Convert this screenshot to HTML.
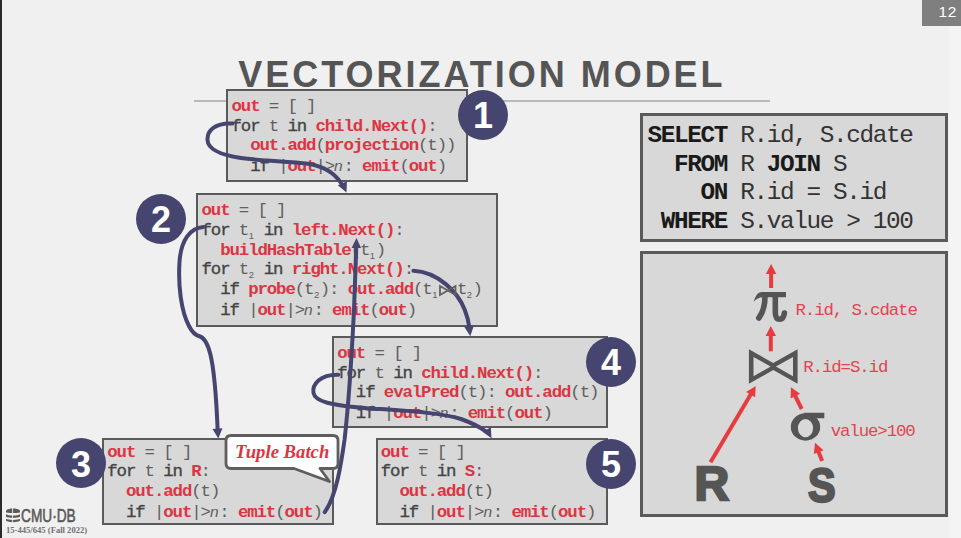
<!DOCTYPE html>
<html><head><meta charset="utf-8"><style>
*{margin:0;padding:0;box-sizing:border-box}
html,body{width:961px;height:538px;overflow:hidden;background:#f0f0f0}
body{position:relative;font-family:"Liberation Sans",sans-serif}
.lb{position:absolute;left:0;top:0;width:2px;height:538px;background:#2a2a2a}
.num{position:absolute;left:922px;top:0;width:39px;height:25.5px;background:#7f7f7f;color:#fff;font-size:15.5px;line-height:23px;text-align:right;padding-right:4px;letter-spacing:0.6px}
.title{position:absolute;left:238.3px;top:53.5px;font-weight:bold;font-size:36px;letter-spacing:2.98px;color:#555;white-space:nowrap}
.ul{position:absolute;left:193.7px;top:100px;width:576px;height:1.9px;background:#b9b9b9}
.box{position:absolute;background:#d8d8d8;border:2.2px solid #5a5a5a}
.ln{position:absolute;font-family:"Liberation Mono",monospace;font-size:17.4px;line-height:17.4px;white-space:pre;color:#606060;letter-spacing:-1.112px}
.r{color:#dc3543;font-weight:bold}
.g{color:#606060}
.k{color:#444444;-webkit-text-stroke:0.35px #444444}
.n{font-family:"Liberation Sans",sans-serif;font-style:italic;font-weight:normal;color:#606060;display:inline-block;width:9.33px;letter-spacing:0;font-size:15.5px}
.sub{display:inline-block;width:6.3px;font-family:"Liberation Sans",sans-serif;letter-spacing:0;font-size:9.5px;position:relative;top:4px;text-align:left;padding-left:0.5px}
.bt{display:inline-block;width:19px;height:10px}
.circ{position:absolute;border-radius:50%;background:#45456f;color:#fff;font-weight:bold;font-size:36px;text-align:center}
.circ span{position:absolute;left:0;right:0;top:8.23px;line-height:36px}
.sq{position:absolute;font-family:"Liberation Mono",monospace;font-size:24.4px;line-height:24.4px;white-space:pre;color:#333;letter-spacing:-1.382px}
.sq b{color:#1a1a1a}
.ov{position:absolute;left:0;top:0}
.big{position:absolute;font-weight:bold;font-size:48px;line-height:50px;color:#555;z-index:3;-webkit-text-stroke:2.4px #555}
.greek{position:absolute;font-family:"Liberation Serif",serif;font-weight:bold;font-size:44px;line-height:50px;color:#555}
.tb{position:absolute;left:235px;top:441.3px;font-family:"Liberation Serif",serif;font-weight:bold;font-style:italic;font-size:18.7px;line-height:22px;color:#dc3543;z-index:5}
.logo{position:absolute;left:21px;top:506px;font-size:18px;line-height:20px;color:#5a5a5a;white-space:nowrap;transform:scaleX(0.76);transform-origin:0 0;-webkit-text-stroke:0.6px #5a5a5a}
.course{position:absolute;left:6px;top:525.2px;font-family:"Liberation Serif",serif;font-size:8.6px;line-height:10px;color:#707070;font-weight:bold;white-space:nowrap}
</style></head>
<body>
<div class="lb"></div>
<div style="position:absolute;left:949px;top:26px;width:12px;height:512px;background:#f4f4f4"></div>
<div class="num">12</div>
<div class="title">VECTORIZATION MODEL</div>
<div class="ul"></div>
<div class="box" style="left:226px;top:88.9px;width:242.10000000000002px;height:92.9px;border-width:2.2px"></div>
<div class="box" style="left:196px;top:192.7px;width:302.1px;height:134.0px;border-width:2.2px"></div>
<div class="box" style="left:102px;top:437.8px;width:232.2px;height:86.90000000000003px;border-width:2.2px"></div>
<div class="box" style="left:332px;top:335.8px;width:275.79999999999995px;height:92.59999999999997px;border-width:2.2px"></div>
<div class="box" style="left:375.9px;top:437.8px;width:232.10000000000002px;height:86.80000000000001px;border-width:2.2px"></div>
<div class="ln" style="left:231.5px;top:98.07px"><b class="r">out</b><span class="g"> = [ ]</span></div>
<div class="ln" style="left:231.5px;top:117.77px"><span class="k">for</span><span class="g"> t </span><span class="k">in</span> <b class="r">child.Next()</b><span class="g">:</span></div>
<div class="ln" style="left:231.5px;top:137.47px">  <b class="r">out.add</b><span class="g">(</span><b class="r">projection</b><span class="g">(t))</span></div>
<div class="ln" style="left:231.5px;top:157.27px">  <span class="k">if</span><span class="g"> |</span><b class="r">out</b><span class="g">|&gt;</span><i class="n">n</i><span class="g">: </span><b class="r">emit</b><span class="g">(</span><b class="r">out</b><span class="g">)</span></div>
<div class="ln" style="left:201.5px;top:201.97px"><b class="r">out</b><span class="g"> = [ ]</span></div>
<div class="ln" style="left:201.5px;top:221.87px"><span class="k">for</span><span class="g"> t<span class="sub">1</span> </span><span class="k">in</span> <b class="r">left.Next()</b><span class="g">:</span></div>
<div class="ln" style="left:201.5px;top:241.57px">  <b class="r">buildHashTable</b><span class="g">(t<span class="sub">1</span>)</span></div>
<div class="ln" style="left:201.5px;top:261.27px"><span class="k">for</span><span class="g"> t<span class="sub">2</span> </span><span class="k">in</span> <b class="r">right.Next()</b><span class="g">:</span></div>
<div class="ln" style="left:201.5px;top:281.07px">  <span class="k">if</span> <b class="r">probe</b><span class="g">(t<span class="sub">2</span>): </span><b class="r">out.add</b><span class="g">(t<span class="sub">1</span><span class="bt"></span>t<span class="sub">2</span>)</span></div>
<div class="ln" style="left:201.5px;top:300.97px">  <span class="k">if</span><span class="g"> |</span><b class="r">out</b><span class="g">|&gt;</span><i class="n">n</i><span class="g">: </span><b class="r">emit</b><span class="g">(</span><b class="r">out</b><span class="g">)</span></div>
<div class="ln" style="left:107.3px;top:443.67px"><b class="r">out</b><span class="g"> = [ ]</span></div>
<div class="ln" style="left:107.3px;top:463.47px"><span class="k">for</span><span class="g"> t </span><span class="k">in</span> <b class="r">R</b><span class="g">:</span></div>
<div class="ln" style="left:107.3px;top:483.27px">  <b class="r">out.add</b><span class="g">(t)</span></div>
<div class="ln" style="left:107.3px;top:503.17px">  <span class="k">if</span><span class="g"> |</span><b class="r">out</b><span class="g">|&gt;</span><i class="n">n</i><span class="g">: </span><b class="r">emit</b><span class="g">(</span><b class="r">out</b><span class="g">)</span></div>
<div class="ln" style="left:337.2px;top:344.87px"><b class="r">out</b><span class="g"> = [ ]</span></div>
<div class="ln" style="left:337.2px;top:364.57px"><span class="k">for</span><span class="g"> t </span><span class="k">in</span> <b class="r">child.Next()</b><span class="g">:</span></div>
<div class="ln" style="left:337.2px;top:384.37px">  <span class="k">if</span> <b class="r">evalPred</b><span class="g">(t): </span><b class="r">out.add</b><span class="g">(t)</span></div>
<div class="ln" style="left:337.2px;top:404.27px">  <span class="k">if</span><span class="g"> |</span><b class="r">out</b><span class="g">|&gt;</span><i class="n">n</i><span class="g">: </span><b class="r">emit</b><span class="g">(</span><b class="r">out</b><span class="g">)</span></div>
<div class="ln" style="left:380.8px;top:443.67px"><b class="r">out</b><span class="g"> = [ ]</span></div>
<div class="ln" style="left:380.8px;top:463.47px"><span class="k">for</span><span class="g"> t </span><span class="k">in</span> <b class="r">S</b><span class="g">:</span></div>
<div class="ln" style="left:380.8px;top:483.27px">  <b class="r">out.add</b><span class="g">(t)</span></div>
<div class="ln" style="left:380.8px;top:503.17px">  <span class="k">if</span><span class="g"> |</span><b class="r">out</b><span class="g">|&gt;</span><i class="n">n</i><span class="g">: </span><b class="r">emit</b><span class="g">(</span><b class="r">out</b><span class="g">)</span></div>
<div class="circ" style="left:458.1px;top:89.8px;width:50px;height:50px"><span>1</span></div>
<div class="circ" style="left:135.9px;top:194.1px;width:50px;height:50px"><span>2</span></div>
<div class="circ" style="left:56.099999999999994px;top:438.4px;width:50px;height:50px"><span>3</span></div>
<div class="circ" style="left:586.1px;top:336.9px;width:50px;height:50px"><span>4</span></div>
<div class="circ" style="left:586.1px;top:438.9px;width:50px;height:50px"><span>5</span></div>
<div class="box" style="left:640.3px;top:113.4px;width:307.30000000000007px;height:128.6px;border-width:3.2px"></div>
<div class="box" style="left:640px;top:250.6px;width:307.79999999999995px;height:266.1px;border-width:3.2px"></div>
<div class="sq" style="left:647.5px;top:123.61px"><b>SELECT</b> R.id, S.cdate</div>
<div class="sq" style="left:647.5px;top:153.21px"><b>  FROM</b> R <b>JOIN</b> S</div>
<div class="sq" style="left:647.5px;top:181.31px"><b>    ON</b> R.id = S.id</div>
<div class="sq" style="left:647.5px;top:210.31px"><b> WHERE</b> S.value &gt; 100</div>
<div class="ln" style="left:795.5px;top:301.67px;color:#e04650">R.id, S.cdate</div>
<div class="ln" style="left:803.3px;top:359.27px;color:#e04650">R.id=S.id</div>
<div class="ln" style="left:830.7px;top:422.87px;color:#e04650">value&gt;100</div>
<div class="tb">Tuple Batch</div>
<div class="big" style="left:694.5px;top:459.3px">R</div>
<div class="big" style="left:807.5px;top:461.3px;transform:scaleX(0.86);transform-origin:0 0">S</div>

<svg class="ov" width="961" height="538" viewBox="0 0 961 538">
<defs>
<marker id="ah" markerWidth="10" markerHeight="10" refX="5" refY="5" orient="auto" markerUnits="userSpaceOnUse"></marker>
</defs>
<path d="M232.5,123.5 C216,122.5 207,130 207.5,140 C208,150 221,155 241,158 C263,161 290,161.3 308,163.8 C322,166 334,172.5 341,183" fill="none" stroke="#45456f" stroke-width="4.0" stroke-linecap="round"/><polygon points="346.50,192.40 337.81,185.37 346.91,181.23" fill="#45456f"/><path d="M203.5,227 C190,228 181,240 179.5,262 C178,285 181,311 189,326 C192,332 195.5,335.2 199.5,336.3 C204,337.6 207.5,343 210.3,354 C213.8,368 216.2,395 217.6,429" fill="none" stroke="#45456f" stroke-width="4.0" stroke-linecap="round"/><polygon points="218.30,438.50 212.52,428.93 222.49,428.13" fill="#45456f"/><path d="M324.7,512.1 C336,497 341,465 344.5,440 C348,410 352,350 354,310 L356.3,246" fill="none" stroke="#45456f" stroke-width="4.0" stroke-linecap="round"/><polygon points="356.50,238.00 361.05,248.09 351.55,247.90" fill="#45456f"/><path d="M413.4,270.8 C438,272 458,292 464.8,310 C467.2,316 468.6,321 469.5,328" fill="none" stroke="#45456f" stroke-width="4.0" stroke-linecap="round"/><polygon points="470.30,336.30 464.39,326.94 473.82,325.81" fill="#45456f"/><path d="M338.3,374.8 C320,374.5 312,384.5 313.5,393 C315,401.5 331,405.5 367,408.2 C400,410.5 440,412.3 461,419 C472,423 480,427 486,431.5" fill="none" stroke="#45456f" stroke-width="4.0" stroke-linecap="round"/><polygon points="491.50,438.20 482.52,431.73 490.84,427.15" fill="#45456f"/>
<polygon points="440,286 440,295 447.8,290.5 455.5,286 455.5,295 447.8,290.5" fill="none" stroke="#606060" stroke-width="1.8" stroke-linejoin="miter"/>
<line x1="771.10" y1="288.00" x2="771.10" y2="273.00" stroke="#e63c40" stroke-width="4.0"/><polygon points="771.10,264.00 776.35,274.00 765.85,274.00" fill="#e63c40"/><line x1="770.80" y1="351.30" x2="770.80" y2="334.90" stroke="#e63c40" stroke-width="4.0"/><polygon points="770.80,325.90 776.05,335.90 765.55,335.90" fill="#e63c40"/><line x1="710.50" y1="462.20" x2="751.11" y2="393.74" stroke="#e63c40" stroke-width="4.0"/><polygon points="755.70,386.00 755.11,397.28 746.08,391.92" fill="#e63c40"/><line x1="801.70" y1="409.00" x2="794.90" y2="395.26" stroke="#e63c40" stroke-width="4.0"/><polygon points="790.90,387.20 800.04,393.83 790.63,398.49" fill="#e63c40"/><line x1="822.20" y1="460.90" x2="818.33" y2="451.16" stroke="#e63c40" stroke-width="4.0"/><polygon points="815.00,442.80 823.57,450.15 813.82,454.03" fill="#e63c40"/><g fill="#555"><path d="M753.7,301.8 C755.5,296 757.5,292 762,292 L786,292 L786,297.3 L763,297.3 C759,297.3 756.5,299 753.7,301.8 Z"/></g><g fill="none" stroke="#555" stroke-width="5.6" stroke-linecap="round"><path d="M765,296.5 C765,306 762.5,313 758.8,318"/><path d="M775.3,296.5 L775.3,312 C775.3,317.5 777.3,319.3 779.8,319.3 C782.3,319.3 783.8,316.8 784.4,313"/></g><path fill="#555" fill-rule="evenodd" d="M748.9,349.3 L773.25,363.06 L797.6,349.3 L797.6,383.8 L773.25,370.04 L748.9,383.8 Z M753.5,356.9 L770.6,366.55 L753.5,376.2 Z M793.0,356.9 L775.9,366.55 L793.0,376.2 Z"/><path fill="#555" fill-rule="evenodd" d="M790.8,426.9 A14.7,13.75 0 1,0 820.2,426.9 A14.7,13.75 0 1,0 790.8,426.9 Z M797.9,428.1 A7.6,9.1 0 1,0 813.1,428.1 A7.6,9.1 0 1,0 797.9,428.1 Z"/><path fill="#555" d="M803.8,412.7 L824.3,412.7 L824.3,418.3 L806,418.3 Z"/>
<path d="M231,435.5 L333,435.5 Q338,435.5 338,440.5 L338,463.5 Q338,468.5 333,468.5 L320,468.5 L329.5,481.5 L294,468.5 L231,468.5 Q226,468.5 226,463.5 L226,440.5 Q226,435.5 231,435.5 Z" fill="#fff" stroke="#5e5e5e" stroke-width="2.8" stroke-linejoin="round"/>
</svg>
<div class="logo">CMU·DB</div>
<svg class="ov" width="961" height="538" style="pointer-events:none"><g fill="#5a5a5a">
<path d="M6,511 C6,507.5 20,507.5 20,511 L20,512.3 C20,513.3 6,513.3 6,512.3 Z"/>
<path d="M6,514.3 C8,516 18,516 20,514.3 L20,516.8 C18,518.3 8,518.3 6,516.8 Z"/>
<path d="M6,518.8 C8,520.3 18,520.3 20,518.8 L20,520.8 C18,522.6 8,522.6 6,520.8 Z"/>
</g><g stroke="#efefef" stroke-width="0.9"><line x1="12.6" y1="506" x2="12.6" y2="523"/></g></svg>
<div class="course">15-445/645 (Fall 2022)</div>
</body></html>
